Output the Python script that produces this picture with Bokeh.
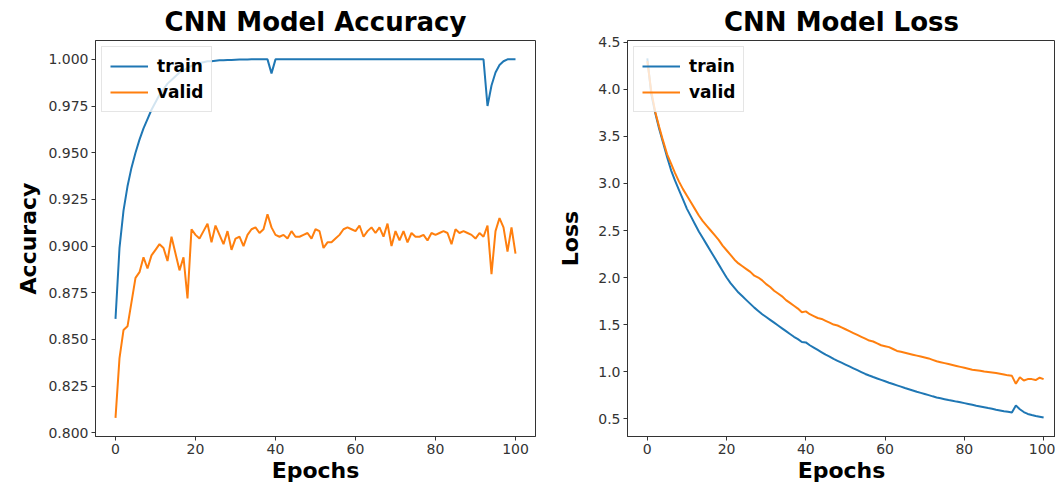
from bokeh.plotting import figure
from bokeh.layouts import row
from bokeh.models import Range1d, FixedTicker, NumeralTickFormatter
from bokeh.embed import file_html
from bokeh.resources import INLINE

epochs = list(range(101))

acc_train = [
    0.861, 0.899, 0.919, 0.932, 0.942, 0.950, 0.957, 0.963, 0.968, 0.973,
    0.977, 0.981, 0.984, 0.987, 0.989, 0.991, 0.993, 0.994, 0.9955, 0.9965,
    0.9975, 0.998, 0.9985, 0.999, 0.999, 0.9993, 0.9995, 0.9995, 0.9997, 0.9997,
    0.9998, 0.9999, 0.9999, 0.9999, 1.0, 1.0, 1.0, 1.0, 1.0, 0.9925,
    1.0, 1.0, 1.0, 1.0, 1.0, 1.0, 1.0, 1.0, 1.0, 1.0,
    1.0, 1.0, 1.0, 1.0, 1.0, 1.0, 1.0, 1.0, 1.0, 1.0,
    1.0, 1.0, 1.0, 1.0, 1.0, 1.0, 1.0, 1.0, 1.0, 1.0,
    1.0, 1.0, 1.0, 1.0, 1.0, 1.0, 1.0, 1.0, 1.0, 1.0,
    1.0, 1.0, 1.0, 1.0, 1.0, 1.0, 1.0, 1.0, 1.0, 1.0,
    1.0, 1.0, 1.0, 0.975, 0.986, 0.993, 0.997, 0.999, 1.0, 1.0,
    1.0,
]

acc_valid = [
    0.808, 0.840, 0.855, 0.857, 0.870, 0.883, 0.886, 0.894, 0.888, 0.895,
    0.898, 0.901, 0.899, 0.892, 0.905, 0.896, 0.887, 0.894, 0.872, 0.909,
    0.906, 0.904, 0.908, 0.912, 0.902, 0.911, 0.906, 0.901, 0.908, 0.898,
    0.904, 0.905, 0.900, 0.906, 0.909, 0.910, 0.907, 0.909, 0.917, 0.910,
    0.906, 0.905, 0.906, 0.904, 0.908, 0.905, 0.905, 0.906, 0.907, 0.904,
    0.909, 0.908, 0.899, 0.902, 0.902, 0.904, 0.906, 0.909, 0.910, 0.909,
    0.908, 0.911, 0.905, 0.908, 0.910, 0.907, 0.910, 0.905, 0.912, 0.900,
    0.908, 0.903, 0.908, 0.902, 0.907, 0.905, 0.905, 0.906, 0.903, 0.907,
    0.906, 0.907, 0.908, 0.907, 0.901, 0.909, 0.907, 0.908, 0.907, 0.906,
    0.904, 0.907, 0.905, 0.911, 0.885, 0.908, 0.915, 0.910, 0.897, 0.910,
    0.896,
]

loss_train = [
    4.33, 3.95, 3.75, 3.58, 3.43, 3.28, 3.14, 3.03, 2.93, 2.83,
    2.73, 2.65, 2.57, 2.49, 2.42, 2.35, 2.28, 2.21, 2.14, 2.07,
    2.00, 1.94, 1.89, 1.84, 1.80, 1.76, 1.72, 1.68, 1.645, 1.61,
    1.58, 1.55, 1.52, 1.49, 1.46, 1.43, 1.40, 1.37, 1.345, 1.315,
    1.31, 1.28, 1.255, 1.23, 1.205, 1.18, 1.16, 1.135, 1.115, 1.095,
    1.075, 1.055, 1.035, 1.015, 0.995, 0.975, 0.958, 0.942, 0.927, 0.912,
    0.897, 0.882, 0.868, 0.854, 0.840, 0.825, 0.812, 0.799, 0.786, 0.774,
    0.762, 0.750, 0.737, 0.725, 0.716, 0.707, 0.698, 0.690, 0.681, 0.673,
    0.665, 0.656, 0.647, 0.638, 0.630, 0.621, 0.612, 0.604, 0.595, 0.587,
    0.579, 0.572, 0.565, 0.640, 0.600, 0.570, 0.550, 0.538, 0.528, 0.520,
    0.512,
]

loss_valid = [
    4.30, 3.98, 3.76, 3.60, 3.45, 3.31, 3.21, 3.11, 3.02, 2.94,
    2.87, 2.80, 2.73, 2.66, 2.60, 2.55, 2.50, 2.45, 2.40, 2.34,
    2.29, 2.24, 2.19, 2.15, 2.12, 2.09, 2.06, 2.02, 2.00, 1.97,
    1.93, 1.90, 1.86, 1.83, 1.80, 1.76, 1.73, 1.70, 1.67, 1.63,
    1.64, 1.61, 1.59, 1.57, 1.56, 1.54, 1.52, 1.50, 1.49, 1.47,
    1.45, 1.43, 1.41, 1.39, 1.37, 1.35, 1.33, 1.32, 1.30, 1.28,
    1.27, 1.26, 1.24, 1.22, 1.21, 1.20, 1.19, 1.18, 1.17, 1.16,
    1.15, 1.14, 1.125, 1.11, 1.10, 1.09, 1.08, 1.07, 1.06, 1.05,
    1.04, 1.03, 1.02, 1.015, 1.01, 1.00, 0.995, 0.99, 0.985, 0.978,
    0.97, 0.96, 0.955, 0.87, 0.94, 0.905, 0.92, 0.92, 0.91, 0.935,
    0.92,
]

x_ticks = [0, 20, 40, 60, 80, 100]
acc_ticks = [0.800, 0.825, 0.850, 0.875, 0.900, 0.925, 0.950, 0.975, 1.000]
loss_ticks = [0.5, 1.0, 1.5, 2.0, 2.5, 3.0, 3.5, 4.0, 4.5]

BLUE = "#1f77b4"
ORANGE = "#ff7f0e"
FONT = "DejaVu Sans"
SPINE = "#333333"


def style(p, ylabel, yticks, yfmt, ylab_standoff):
    p.title.text_font = FONT
    p.title.text_font_size = "26px"
    p.title.text_font_style = "bold"
    p.title.text_color = "black"
    p.title.align = "center"
    p.title.standoff = 7
    p.xgrid.visible = False
    p.ygrid.visible = False
    p.outline_line_color = SPINE
    p.outline_line_width = 1
    p.background_fill_color = "white"
    p.border_fill_color = "white"
    for ax in (p.xaxis[0], p.yaxis[0]):
        ax.axis_line_color = SPINE
        ax.major_tick_line_color = SPINE
        ax.minor_tick_line_color = None
        ax.major_tick_in = 0
        ax.major_tick_out = 4
        ax.major_label_text_font = FONT
        ax.major_label_text_font_size = "14px"
        ax.major_label_text_color = "#333333"
        ax.axis_label_text_font = FONT
        ax.axis_label_text_font_size = "22px"
        ax.axis_label_text_font_style = "bold"
        ax.axis_label_text_color = "black"
    p.xaxis.axis_label = "Epochs"
    p.xaxis.ticker = FixedTicker(ticks=x_ticks)
    p.xaxis.major_label_standoff = 3
    p.xaxis.axis_label_standoff = 1
    p.yaxis.axis_label = ylabel
    p.yaxis.ticker = FixedTicker(ticks=yticks)
    p.yaxis.formatter = NumeralTickFormatter(format=yfmt)
    p.yaxis.major_label_standoff = 3
    p.yaxis.axis_label_standoff = ylab_standoff

    lg = p.legend[0]
    lg.location = "top_left"
    lg.margin = 6
    lg.padding = 8
    lg.spacing = 4
    lg.glyph_width = 38
    lg.glyph_height = 22
    lg.label_height = 22
    lg.label_standoff = 9
    lg.label_text_font = FONT
    lg.label_text_font_size = "17px"
    lg.label_text_font_style = "bold"
    lg.label_text_color = "black"
    lg.border_line_color = "#cccccc"
    lg.border_line_width = 1
    lg.background_fill_color = "white"
    lg.background_fill_alpha = 0.8


p1 = figure(
    width=555, height=489,
    title="CNN Model Accuracy",
    x_range=Range1d(-5, 105), y_range=Range1d(0.798, 1.0101),
    min_border_left=95, min_border_right=20, min_border_top=40, min_border_bottom=53,
    toolbar_location=None, output_backend="svg",
)
p1.line(epochs, acc_train, color=BLUE, line_width=2, legend_label="train")
p1.line(epochs, acc_valid, color=ORANGE, line_width=2, legend_label="valid")
style(p1, "Accuracy", acc_ticks, "0.000", 4)

p2 = figure(
    width=500, height=489,
    title="CNN Model Loss",
    x_range=Range1d(-5, 103), y_range=Range1d(0.31, 4.52),
    min_border_left=68, min_border_right=0, min_border_top=40, min_border_bottom=53,
    toolbar_location=None, output_backend="svg",
)
p2.line(epochs, loss_train, color=BLUE, line_width=2, legend_label="train")
p2.line(epochs, loss_valid, color=ORANGE, line_width=2, legend_label="valid")
style(p2, "Loss", loss_ticks, "0.0", 12)

layout = row(p1, p2)
open("out.html", "w").write(file_html(layout, INLINE))
